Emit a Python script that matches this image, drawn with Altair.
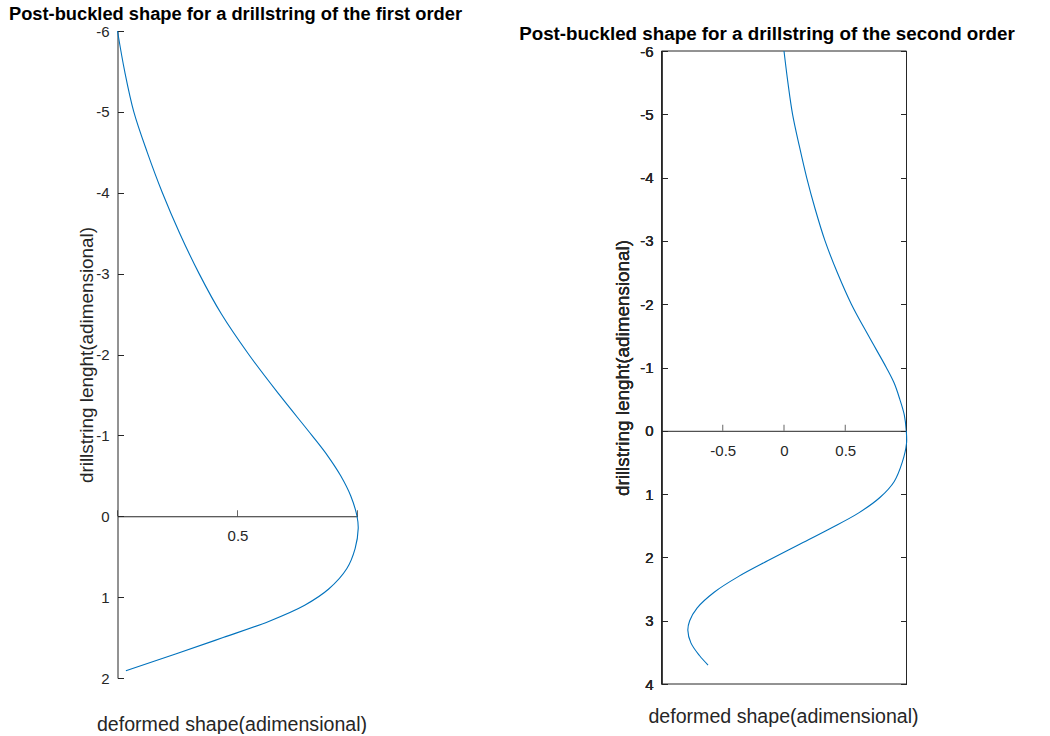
import altair as alt
import pandas as pd

# ---- data ----
left_y = [-6.0, -5.5, -5.0, -4.5, -4.0, -3.5, -3.0, -2.5, -2.0, -1.5, -1.0, -0.75, -0.5,
          -0.25, 0.0, 0.15, 0.4, 0.65, 0.9, 1.1, 1.3, 1.5, 1.7, 1.91]
left_x = [0.0, 0.03, 0.068, 0.124, 0.187, 0.259, 0.34, 0.433, 0.547, 0.675, 0.81, 0.875, 0.93,
          0.972, 0.998, 1.003, 0.99, 0.955, 0.88, 0.78, 0.63, 0.44, 0.245, 0.035]

right_y = [-6.0, -5.5, -5.0, -4.5, -4.0, -3.5, -3.0, -2.5, -2.0, -1.5, -1.0, -0.75, -0.5,
           -0.25, 0.0, 0.2, 0.5, 0.8, 1.05, 1.3, 1.55, 1.8, 2.05, 2.3, 2.55, 2.8, 3.0,
           3.15, 3.35, 3.55, 3.7]
right_x = [0.0, 0.032, 0.07, 0.125, 0.185, 0.255, 0.335, 0.435, 0.55, 0.69, 0.835, 0.9, 0.945,
           0.982, 0.998, 1.0, 0.965, 0.9, 0.785, 0.607, 0.37, 0.12, -0.13, -0.37, -0.57, -0.71, -0.77,
           -0.785, -0.76, -0.69, -0.62]

left_yticks = [-6, -5, -4, -3, -2, -1, 0, 1, 2]
left_xticks = [0, 0.5, 1]
right_yticks = [-6, -5, -4, -3, -2, -1, 0, 1, 2, 3, 4]
right_xticks = [-1, -0.5, 0, 0.5, 1]
left_ydomain = [-6, 2]
left_xdomain = [0, 1]
right_ydomain = [-6, 4]
right_xdomain = [-1, 1]

left_title = "Post-buckled shape for a drillstring of the first order"
right_title = "Post-buckled shape for a drillstring of the second order"
XTITLE = "deformed shape(adimensional)"
YTITLE = "drillstring lenght(adimensional)"

# ---- style ----
AX = "#262626"
LINE = "#0072BD"
FONT = "Liberation Sans"
TICK = 6
LW, LH = 240, 647
RW, RBOX, RTOP = 245, 633, 20
RH = RBOX + RTOP

left_df = pd.DataFrame({"x": left_x, "y": left_y, "i": list(range(len(left_x)))})
right_df = pd.DataFrame({"x": right_x, "y": right_y, "i": list(range(len(right_x)))})
left_ticks_df = pd.DataFrame({"x": left_xticks, "y": [0] * len(left_xticks)})
right_ticks_df = pd.DataFrame({"x": right_xticks, "y": [0] * len(right_xticks)})
box_df = pd.DataFrame({"x": [right_xdomain[0]], "x2": [right_xdomain[1]],
                       "y": [right_ydomain[0]], "y2": [right_ydomain[1]]})

common = dict(grid=False, domainColor=AX, tickColor=AX, labelColor=AX, titleColor=AX,
              labelFont=FONT, titleFont=FONT, labelFontSize=15,
              titleFontWeight="normal", labelOverlap=False, labelFlush=False,
              domainWidth=1, tickWidth=1)

def x_axis(values, offset, label_expr, title_x, title_y):
    return alt.Axis(orient="bottom", offset=offset, values=values, ticks=False, tickSize=0,
                    labelExpr=label_expr, labelBaseline="middle", labelPadding=19.5,
                    title=XTITLE, titleX=title_x, titleY=title_y, titleAlign="center",
                    titleBaseline="alphabetic", titleFontSize=19.6, **common)

def y_axis(values, width, title_x, title_y):
    return alt.Axis(orient="right", offset=-width, values=values, tickSize=TICK,
                    labelExpr="datum.value + ''", labelAlign="right", labelBaseline="middle",
                    labelPadding=-(8.5 + TICK),
                    title=YTITLE, titleAngle=270, titleX=title_x, titleY=title_y,
                    titleAlign="center", titleBaseline="middle", titleFontSize=18.9, **common)

# ---- left panel ----
l_y0 = LH * 6 / 8
l_xscale = alt.Scale(domain=left_xdomain, nice=False, zero=False)
l_yscale = alt.Scale(domain=left_ydomain, reverse=True, nice=False, zero=False)
l_xaxis = x_axis(left_xticks, -(LH - l_y0), "datum.value == 0.5 ? '0.5' : ''", LW / 2 - 6, 214)
l_yaxis = y_axis(left_yticks, LW, -31.5, LH / 2)

l_line = alt.Chart(left_df).mark_line(color=LINE, strokeWidth=1.1, interpolate="catmull-rom").encode(
    x=alt.X("x:Q", scale=l_xscale, axis=l_xaxis),
    y=alt.Y("y:Q", scale=l_yscale, axis=l_yaxis),
    order="i:Q",
)
l_ticks = alt.Chart(left_ticks_df).mark_tick(color=AX, orient="vertical", size=TICK, thickness=1,
                                             yOffset=-TICK / 2).encode(
    x=alt.X("x:Q", scale=l_xscale, axis=l_xaxis),
    y=alt.Y("y:Q", scale=l_yscale, axis=l_yaxis),
)
left = alt.layer(l_line, l_ticks).properties(
    width=LW, height=LH,
    title=alt.TitleParams(left_title, font=FONT, fontSize=18.3, fontWeight="bold", color="#000000",
                          anchor="middle", baseline="alphabetic", offset=-14, dx=-2),
)

# ---- right panel ----
r_y0 = RTOP + RBOX * 6 / 10
r_xscale = alt.Scale(domain=right_xdomain, nice=False, zero=False)
r_yscale = alt.Scale(domain=right_ydomain, range=[RTOP, RH], nice=False, zero=False)
r_xaxis = x_axis(right_xticks, -(RH - r_y0), "abs(datum.value) == 1 ? '' : datum.value + ''",
                 RW / 2 - 1, 292)
r_yaxis = y_axis(right_yticks, RW, -39.5, RTOP + RBOX / 2)
r_yaxis_mirror = alt.Axis(orient="left", offset=-RW, values=right_yticks, labels=False, domain=False,
                          tickSize=TICK, title=None, **common)

r_box = alt.Chart(box_df).mark_rect(fill=None, stroke=AX, strokeWidth=1).encode(
    x=alt.X("x:Q", scale=r_xscale, axis=r_xaxis),
    x2="x2:Q",
    y=alt.Y("y:Q", scale=r_yscale, axis=r_yaxis),
    y2="y2:Q",
)
r_line = alt.Chart(right_df).mark_line(color=LINE, strokeWidth=1.1, interpolate="catmull-rom").encode(
    x=alt.X("x:Q", scale=r_xscale, axis=r_xaxis),
    y=alt.Y("y:Q", scale=r_yscale, axis=r_yaxis),
    order="i:Q",
)
r_ticks = alt.Chart(right_ticks_df).mark_tick(color=AX, orient="vertical", size=TICK, thickness=1,
                                              yOffset=-TICK / 2).encode(
    x=alt.X("x:Q", scale=r_xscale, axis=r_xaxis),
    y=alt.Y("y:Q", scale=r_yscale, axis=r_yaxis),
)
r_mirror = alt.Chart(right_df).mark_line(strokeOpacity=0).encode(
    x=alt.X("x:Q", scale=r_xscale, axis=r_xaxis),
    y=alt.Y("y:Q", scale=r_yscale, axis=r_yaxis_mirror),
    order="i:Q",
)
right = alt.layer(r_box, r_line, r_ticks, r_mirror).resolve_axis(y="independent").properties(
    width=RW, height=RH,
    title=alt.TitleParams(right_title, font=FONT, fontSize=18.8, fontWeight="bold", color="#000000",
                          anchor="middle", baseline="alphabetic", offset=-15, dx=-17, dy=12.3),
)

chart = alt.hconcat(left, right, spacing=56).configure_view(stroke=None).properties(
    padding={"left": 8.5, "top": 4, "right": 0, "bottom": 0},
    background="white",
)

chart.save("out.html", embed_options={"renderer": "svg", "actions": False})
